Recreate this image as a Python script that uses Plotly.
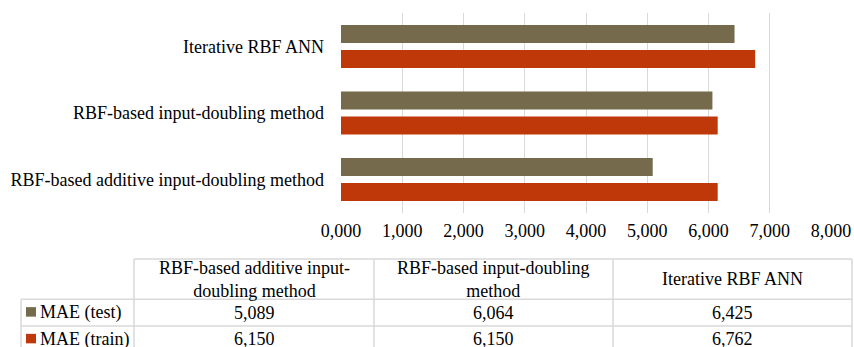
import plotly.graph_objects as go

# ---- data -------------------------------------------------------------
categories = [
    "RBF-based additive input-doubling method",
    "RBF-based input-doubling method",
    "Iterative RBF ANN",
]
column_headers = [
    "RBF-based additive input-<br>doubling method",
    "RBF-based input-doubling<br>method",
    "Iterative RBF ANN",
]
mae_test = [5.089, 6.064, 6.425]
mae_train = [6.150, 6.150, 6.762]
series_names = ["MAE (test)", "MAE (train)"]
x_ticks = [0, 1, 2, 3, 4, 5, 6, 7, 8]

# ---- styling ----------------------------------------------------------
W, H = 854, 347
FONT = "Liberation Serif, Times New Roman, serif"
FSIZE = 18
C_TEST = "#756A4B"
C_TRAIN = "#BF380A"
GRID = "#D9D9D9"


def fmt(v):
    return f"{v:.3f}".replace(".", ",")


def px_x(x):
    return x / W


def px_y(y):
    return 1 - y / H


fig = go.Figure()

bar_w = 0.271
fig.add_trace(go.Bar(
    y=categories, x=mae_train, orientation="h", name=series_names[1],
    marker=dict(color=C_TRAIN, line=dict(width=0)),
    width=bar_w, offset=-0.324, hoverinfo="x+y",
))
fig.add_trace(go.Bar(
    y=categories, x=mae_test, orientation="h", name=series_names[0],
    marker=dict(color=C_TEST, line=dict(width=0)),
    width=bar_w, offset=0.053, hoverinfo="x+y",
))

# plot area in pixels
PL, PR, PT, PB = 341, 831, 13.25, 212.75

fig.update_layout(
    width=W, height=H,
    autosize=False,
    margin=dict(l=0, r=0, t=0, b=0, pad=0, autoexpand=False),
    paper_bgcolor="white", plot_bgcolor="white",
    barmode="overlay",
    showlegend=False,
    separators=",.",
    font=dict(family=FONT, size=FSIZE, color="#000000"),
    xaxis=dict(
        domain=[px_x(PL), px_x(PR)],
        range=[0, 8], tickvals=x_ticks, tickformat=".3f",
        showgrid=True, gridcolor=GRID, gridwidth=1,
        zeroline=False, showline=False, ticks="",
        ticklabelstandoff=5, automargin=False,
        fixedrange=True,
    ),
    yaxis=dict(
        domain=[px_y(PB), px_y(PT)],
        type="category", categoryorder="array", categoryarray=categories,
        range=[-0.5, 2.5],
        showgrid=False, zeroline=False, showline=False, ticks="",
        ticklabelstandoff=16, automargin=False,
        fixedrange=True,
    ),
)

# ---- data table beneath the chart ------------------------------------
col_edges = [21, 134, 374, 613, 852]
row_edges = [259, 299.3, 326, 352.7]
line = dict(color=GRID, width=1.5)
shapes = []
# horizontal rules
shapes.append(dict(type="line", xref="paper", yref="paper",
                   x0=px_x(col_edges[1]), x1=px_x(col_edges[-1]),
                   y0=px_y(row_edges[0]), y1=px_y(row_edges[0]), line=line))
for ry in row_edges[1:]:
    shapes.append(dict(type="line", xref="paper", yref="paper",
                       x0=px_x(col_edges[0]), x1=px_x(col_edges[-1]),
                       y0=px_y(ry), y1=px_y(ry), line=line))
# vertical rules
shapes.append(dict(type="line", xref="paper", yref="paper",
                   x0=px_x(col_edges[0]), x1=px_x(col_edges[0]),
                   y0=px_y(row_edges[1]), y1=px_y(row_edges[-1]), line=line))
for cx in col_edges[1:]:
    shapes.append(dict(type="line", xref="paper", yref="paper",
                       x0=px_x(cx), x1=px_x(cx),
                       y0=px_y(row_edges[0]), y1=px_y(row_edges[-1]), line=line))

annotations = []
for i, head in enumerate(column_headers):
    cx = (col_edges[i + 1] + col_edges[i + 2]) / 2
    cy = (row_edges[0] + row_edges[1]) / 2
    annotations.append(dict(xref="paper", yref="paper", x=px_x(cx), y=px_y(cy),
                            text=head, showarrow=False, xanchor="center",
                            yanchor="middle", align="center"))

series_vals = [mae_test, mae_train]
series_cols = [C_TEST, C_TRAIN]
for r, (name, vals, col) in enumerate(zip(series_names, series_vals, series_cols)):
    top, bot = row_edges[r + 1], row_edges[r + 2]
    cy = (top + bot) / 2
    # legend key square
    shapes.append(dict(type="rect", xref="paper", yref="paper",
                       x0=px_x(26), x1=px_x(36),
                       y0=px_y(cy - 5.5), y1=px_y(cy + 4),
                       fillcolor=col, line=dict(width=0)))
    annotations.append(dict(xref="paper", yref="paper", x=px_x(38), y=px_y(cy),
                            text=name, showarrow=False, xanchor="left",
                            yanchor="middle"))
    for i, v in enumerate(vals):
        cx = (col_edges[i + 1] + col_edges[i + 2]) / 2
        annotations.append(dict(xref="paper", yref="paper", x=px_x(cx), y=px_y(cy),
                                text=fmt(v), showarrow=False, xanchor="center",
                                yanchor="middle"))

fig.update_layout(shapes=shapes, annotations=annotations)

fig.write_html("out.html", config={"displayModeBar": False})
